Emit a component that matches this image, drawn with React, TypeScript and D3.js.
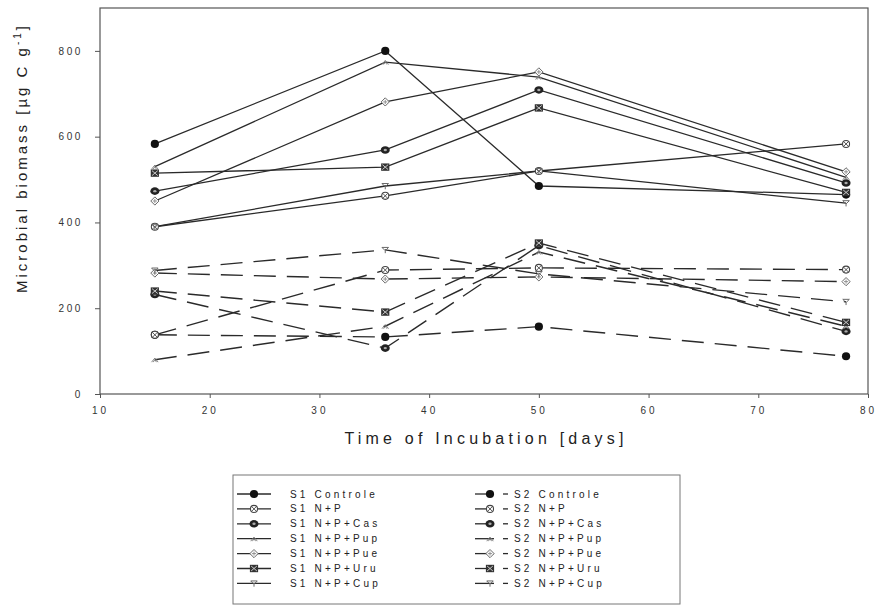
import { useEffect, useRef } from "react";
import * as d3 from "d3";

const days = [15, 36, 50, 78];
const xTicks = [10, 20, 30, 40, 50, 60, 70, 80];
const yTicks = [0, 200, 400, 600, 800];

const treatments = ["Controle", "N+P", "N+P+Cas", "N+P+Pup", "N+P+Pue", "N+P+Uru", "N+P+Cup"];
const symbols = ["controle", "np", "cas", "pup", "pue", "uru", "cup"];

// soil 1 (solid lines)
const s1Controle = [583, 800, 485, 465];
const s1NP = [390, 462, 520, 583];
const s1Cas = [473, 569, 709, 492];
const s1Pup = [530, 774, 739, 505];
const s1Pue = [450, 681, 751, 518];
const s1Uru = [515, 529, 667, 470];
const s1Cup = [390, 485, 520, 445];

// soil 2 (dashed lines)
const s2Controle = [138, 133, 157, 88];
const s2NP = [138, 289, 294, 290];
const s2Cas = [232, 107, 346, 146];
const s2Pup = [80, 158, 331, 158];
const s2Pue = [282, 268, 273, 262];
const s2Uru = [240, 191, 352, 167];
const s2Cup = [288, 336, 280, 215];

const s1Series = [s1Controle, s1NP, s1Cas, s1Pup, s1Pue, s1Uru, s1Cup];
const s2Series = [s2Controle, s2NP, s2Cas, s2Pup, s2Pue, s2Uru, s2Cup];

const FONT = "Arial, 'Liberation Sans', sans-serif";

function drawMarker(g: any, type: string, cx: number, cy: number) {
  const m = g.append("g").attr("transform", `translate(${cx},${cy}) scale(0.82)`);
  if (type === "controle") {
    m.append("circle").attr("r", 5).attr("fill", "#111");
  } else if (type === "np") {
    m.append("circle").attr("r", 4.3).attr("fill", "#fff").attr("stroke", "#444").attr("stroke-width", 1.3);
    m.append("path").attr("d", "M-3,-3L3,3M-3,3L3,-3").attr("stroke", "#444").attr("stroke-width", 1.1);
  } else if (type === "cas") {
    m.append("ellipse").attr("rx", 5.5).attr("ry", 4.6).attr("fill", "#222");
    m.append("ellipse").attr("rx", 2).attr("ry", 1.5).attr("fill", "#aaa");
  } else if (type === "pup") {
    m.append("path").attr("d", "M-4,3L0,-2L4,3M-2,3L0,0L2,3").attr("fill", "none").attr("stroke", "#777").attr("stroke-width", 1.1);
  } else if (type === "pue") {
    m.append("path").attr("d", "M0,-5L5,0L0,5L-5,0Z").attr("fill", "#fff").attr("stroke", "#666").attr("stroke-width", 1.2);
    m.append("path").attr("d", "M-2.5,0L2.5,0M0,-2.5L0,2.5").attr("stroke", "#888").attr("stroke-width", 1.1);
  } else if (type === "uru") {
    m.append("rect").attr("x", -5).attr("y", -4.5).attr("width", 10).attr("height", 9).attr("fill", "#333");
    m.append("path").attr("d", "M-3.5,-3L3.5,3M-3.5,3L3.5,-3").attr("stroke", "#ccc").attr("stroke-width", 1.2);
  } else if (type === "cup") {
    m.append("path").attr("d", "M-4,-3L4,-3M-4,-3L0,1L4,-3M0,1L0,4").attr("fill", "none").attr("stroke", "#666").attr("stroke-width", 1.2);
  }
}

function App() {
  const svgRef = useRef<SVGSVGElement | null>(null);

  useEffect(() => {
    const svg: any = d3.select(svgRef.current);
    svg.selectAll("*").remove();

    const left = 100, right = 868, top = 8, bottom = 394;
    const x = d3.scaleLinear().domain([10, 80]).range([left, right]);
    const y = d3.scaleLinear().domain([0, 900]).range([bottom, top]);

    svg.append("rect").attr("width", 876).attr("height", 606).attr("fill", "#fff");

    // frame
    svg
      .append("rect")
      .attr("x", left)
      .attr("y", top)
      .attr("width", right - left)
      .attr("height", bottom - top)
      .attr("fill", "none")
      .attr("stroke", "#555")
      .attr("stroke-width", 1.2);

    const xAxis: any = svg
      .append("g")
      .attr("transform", `translate(0,${bottom})`)
      .call(d3.axisBottom(x).tickValues(xTicks).tickSize(4).tickPadding(9).tickFormat(d3.format("d")));
    xAxis.select(".domain").remove();
    xAxis.selectAll("line").attr("stroke", "#555");
    xAxis
      .selectAll("text")
      .attr("font-family", FONT)
      .attr("font-size", 10)
      .attr("letter-spacing", 3)
      .attr("fill", "#333");

    const yAxis: any = svg
      .append("g")
      .attr("transform", `translate(${left},0)`)
      .call(d3.axisLeft(y).tickValues(yTicks).tickSize(5).tickPadding(12).tickFormat(d3.format("d")));
    yAxis.select(".domain").remove();
    yAxis.selectAll("line").attr("stroke", "#555");
    yAxis
      .selectAll("text")
      .attr("font-family", FONT)
      .attr("font-size", 10)
      .attr("letter-spacing", 2.6)
      .attr("fill", "#333");

    const line: any = d3
      .line()
      .x((_: any, i: number) => x(days[i]))
      .y((d: any) => y(d));

    const plot = svg.append("g");

    s2Series.forEach((vals) => {
      plot
        .append("path")
        .attr("d", line(vals))
        .attr("fill", "none")
        .attr("stroke", "#2a2a2a")
        .attr("stroke-width", 1.4)
        .attr("stroke-dasharray", "22,11");
    });
    s1Series.forEach((vals) => {
      plot
        .append("path")
        .attr("d", line(vals))
        .attr("fill", "none")
        .attr("stroke", "#2a2a2a")
        .attr("stroke-width", 1.3);
    });
    [s2Series, s1Series].forEach((series) => {
      series.forEach((vals, k) => {
        vals.forEach((v, i) => drawMarker(plot, symbols[k], x(days[i]), y(v)));
      });
    });

    // axis titles
    svg
      .append("text")
      .attr("x", 486)
      .attr("y", 444)
      .attr("text-anchor", "middle")
      .attr("font-family", FONT)
      .attr("font-size", 16)
      .attr("letter-spacing", 4.2)
      .attr("fill", "#222")
      .text("Time of Incubation [days]");

    const yt = svg
      .append("text")
      .attr("transform", "translate(27,158) rotate(-90)")
      .attr("text-anchor", "middle")
      .attr("font-family", FONT)
      .attr("font-size", 15)
      .attr("letter-spacing", 3)
      .attr("fill", "#222");
    yt.append("tspan").text("Microbial biomass [µg C g");
    yt.append("tspan").attr("dy", -6).attr("font-size", 10).text("-1");
    yt.append("tspan").attr("dy", 6).text("]");

    // legend
    const lg = svg.append("g");
    lg.append("rect")
      .attr("x", 233)
      .attr("y", 475)
      .attr("width", 447)
      .attr("height", 129)
      .attr("fill", "none")
      .attr("stroke", "#777")
      .attr("stroke-width", 1);

    treatments.forEach((name, i) => {
      const ly = 494 + i * 14.9;
      lg.append("line").attr("x1", 237).attr("x2", 271).attr("y1", ly).attr("y2", ly).attr("stroke", "#2a2a2a").attr("stroke-width", 1.3);
      drawMarker(lg, symbols[i], 254, ly);
      lg.append("text")
        .attr("x", 290)
        .attr("y", ly + 3.5)
        .attr("font-family", FONT)
        .attr("font-size", 10)
        .attr("letter-spacing", 3.2)
        .attr("fill", "#222")
        .text(`S1 ${name}`);

      lg.append("line").attr("x1", 475).attr("x2", 494).attr("y1", ly).attr("y2", ly).attr("stroke", "#2a2a2a").attr("stroke-width", 1.3);
      drawMarker(lg, symbols[i], 490, ly);
      lg.append("line").attr("x1", 503).attr("x2", 508).attr("y1", ly).attr("y2", ly).attr("stroke", "#2a2a2a").attr("stroke-width", 1.3);
      lg.append("text")
        .attr("x", 514)
        .attr("y", ly + 3.5)
        .attr("font-family", FONT)
        .attr("font-size", 10)
        .attr("letter-spacing", 3.2)
        .attr("fill", "#222")
        .text(`S2 ${name}`);
    });
  }, []);

  return (
    <svg
      ref={svgRef}
      width={876}
      height={606}
      style={{ position: "absolute", left: 0, top: 0 }}
    ></svg>
  );
}

export default App;
